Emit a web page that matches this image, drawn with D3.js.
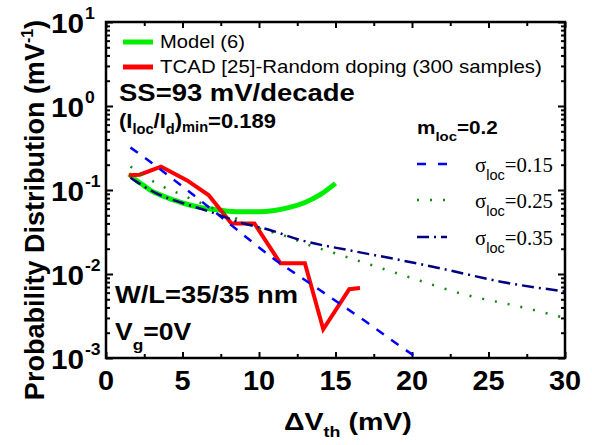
<!DOCTYPE html>
<html>
<head>
<meta charset="utf-8">
<script src="https://cdn.jsdelivr.net/npm/d3@7/dist/d3.min.js"></script>
<style>
  html, body { margin: 0; padding: 0; background: #fff; }
  svg { display: block; }
</style>
</head>
<body>
<svg id="chart" width="592" height="445"></svg>
<script>
// ---------------- data ----------------
const dvModel = [1.5, 2, 2.5, 3, 3.5, 4, 5, 6, 7, 8, 9, 10, 11, 12, 13, 14, 15];
const pModel  = [0.155, 0.13, 0.112, 0.097, 0.088, 0.081, 0.07, 0.063, 0.059, 0.056, 0.055, 0.055, 0.057, 0.062, 0.071, 0.088, 0.12];

const dvTcad = [1.5, 2.2, 3.6, 5.3, 6.7, 8.2, 9.7, 11.4, 13.0, 14.2, 15.9, 16.6];
const pTcad  = [0.15, 0.152, 0.19, 0.13, 0.087, 0.040, 0.040, 0.0134, 0.0134, 0.0022, 0.0066, 0.0068];

const dvS015 = [1.6, 3, 5, 7, 9, 11, 13, 15, 17, 19, 21];
const pS015  = [0.32, 0.21, 0.11, 0.057, 0.029, 0.015, 0.0085, 0.0048, 0.0027, 0.00148, 0.00083];

const dvS025 = [1.6, 3.3, 5, 6.8, 8.5, 10, 11.8, 13, 15, 17, 19.7, 23.6, 27, 30];
const pS025  = [0.19, 0.12, 0.087, 0.063, 0.046, 0.035, 0.028, 0.023, 0.0176, 0.0134, 0.0093, 0.0056, 0.0041, 0.003];

const dvS035 = [1.6, 3.3, 5, 6.8, 8.8, 10.7, 12.7, 16, 19.2, 22.5, 25.8, 30];
const pS035  = [0.14, 0.091, 0.07, 0.055, 0.041, 0.0334, 0.0254, 0.019, 0.0147, 0.011, 0.0081, 0.0062];

const xTicks = [0, 5, 10, 15, 20, 25, 30];
const xTickLabels = ["0", "5", "10", "15", "20", "25", "30"];
const yTicks = [1e-3, 1e-2, 1e-1, 1, 10];
const yTickExps = ["-3", "-2", "-1", "0", "1"];

// ---------------- layout ----------------
const W = 592, H = 445;
const L = 106, R = 565, T = 22, B = 358;
const SANS = "'Liberation Sans', Arial, Helvetica, sans-serif";
const SERIF = "'Liberation Serif', 'Times New Roman', Times, serif";

const svg = d3.select("#chart");
svg.append("rect").attr("width", W).attr("height", H).attr("fill", "#fff");

const x = d3.scaleLinear().domain([0, 30]).range([L, R]);
const y = d3.scaleLog().domain([1e-3, 10]).range([B, T]);

svg.append("clipPath").attr("id", "plotclip")
  .append("rect").attr("x", L).attr("y", T).attr("width", R - L).attr("height", B - T);

// ---------------- axes / ticks ----------------
const minorX = d3.range(2.5, 30, 5);
const minorY = [];
for (let e = -3; e < 1; e++) for (let m = 2; m <= 9; m++) minorY.push(m * Math.pow(10, e));

function styleAxis(g) {
  g.select(".domain").remove();
  g.selectAll("line").attr("stroke", "#000").attr("stroke-width", 2);
  g.selectAll("text").remove();
}
svg.append("g").attr("transform", `translate(0,${B})`)
  .call(d3.axisBottom(x).tickValues(xTicks).tickSize(-6).tickFormat("")).call(styleAxis);
svg.append("g").attr("transform", `translate(0,${B})`)
  .call(d3.axisBottom(x).tickValues(minorX).tickSize(-4).tickFormat("")).call(styleAxis);
svg.append("g").attr("transform", `translate(0,${T})`)
  .call(d3.axisTop(x).tickValues(xTicks).tickSize(-6).tickFormat("")).call(styleAxis);
svg.append("g").attr("transform", `translate(0,${T})`)
  .call(d3.axisTop(x).tickValues(minorX).tickSize(-4).tickFormat("")).call(styleAxis);
svg.append("g").attr("transform", `translate(${L},0)`)
  .call(d3.axisLeft(y).tickValues(yTicks).tickSize(-7).tickFormat("")).call(styleAxis);
svg.append("g").attr("transform", `translate(${L},0)`)
  .call(d3.axisLeft(y).tickValues(minorY).tickSize(-4).tickFormat("")).call(styleAxis);
svg.append("g").attr("transform", `translate(${R},0)`)
  .call(d3.axisRight(y).tickValues(yTicks).tickSize(-7).tickFormat("")).call(styleAxis);
svg.append("g").attr("transform", `translate(${R},0)`)
  .call(d3.axisRight(y).tickValues(minorY).tickSize(-4).tickFormat("")).call(styleAxis);

// ---------------- curves ----------------
const plot = svg.append("g").attr("clip-path", "url(#plotclip)");
function series(dv, p) { return dv.map((d, i) => [d, p[i]]); }
const lineSmooth = d3.line().x(d => x(d[0])).y(d => y(d[1])).curve(d3.curveMonotoneX);
const lineStraight = d3.line().x(d => x(d[0])).y(d => y(d[1]));

plot.append("path").attr("d", lineSmooth(series(dvModel, pModel)))
  .attr("fill", "none").attr("stroke", "#00ee00").attr("stroke-width", 5);
plot.append("path").attr("d", lineStraight(series(dvTcad, pTcad)))
  .attr("fill", "none").attr("stroke", "#ff0000").attr("stroke-width", 4).attr("stroke-linejoin", "miter");
plot.append("path").attr("d", lineSmooth(series(dvS015, pS015)))
  .attr("fill", "none").attr("stroke", "#0000ff").attr("stroke-width", 2.5).attr("stroke-dasharray", "9,9");
plot.append("path").attr("d", lineSmooth(series(dvS025, pS025)))
  .attr("fill", "none").attr("stroke", "#118811").attr("stroke-width", 2.5).attr("stroke-dasharray", "2,11");
plot.append("path").attr("d", lineSmooth(series(dvS035, pS035)))
  .attr("fill", "none").attr("stroke", "#000080").attr("stroke-width", 2.5).attr("stroke-dasharray", "12,5,2,5");

svg.append("rect").attr("x", L).attr("y", T).attr("width", R - L).attr("height", B - T)
  .attr("fill", "none").attr("stroke", "#000").attr("stroke-width", 2.5);

// ---------------- text helpers ----------------
function rich(px, py, parts, base) {
  const t = svg.append("text").attr("x", px).attr("y", py)
    .attr("font-family", base.family || SANS)
    .attr("font-size", base.size)
    .attr("font-weight", base.weight || "normal")
    .attr("fill", "#000");
  let cur = 0;
  parts.forEach(p => {
    const off = p.off || 0;
    const s = t.append("tspan").attr("dy", off - cur).text(p.t);
    if (p.size) s.attr("font-size", p.size);
    if (p.family) s.attr("font-family", p.family);
    if (p.weight) s.attr("font-weight", p.weight);
    cur = off;
  });
  return t;
}
function fitX(t, x0, x1) {
  const bb = t.node().getBBox();
  const s = (x1 - x0) / bb.width;
  t.attr("transform", `translate(${x0},0) scale(${s},1) translate(${-bb.x},0)`);
}
function scaleAbout(t, cx, s) {
  t.attr("transform", `translate(${cx},0) scale(${s},1) translate(${-cx},0)`);
}

// tick labels
xTicks.forEach((v, i) => {
  const t = svg.append("text").attr("x", x(v)).attr("y", 390)
    .attr("text-anchor", "middle").attr("font-family", SANS).attr("font-weight", "bold")
    .attr("font-size", 27).text(xTickLabels[i]);
  scaleAbout(t, x(v), 1.07);
});
yTicks.forEach((v, i) => {
  const g = svg.append("text").attr("x", 84).attr("y", y(v) + 11)
    .attr("text-anchor", "end").attr("font-family", SANS).attr("font-weight", "bold")
    .attr("font-size", 27).text("10");
  scaleAbout(g, 84, 1.1);
  const s = svg.append("text").attr("x", 85).attr("y", y(v) - 3)
    .attr("font-family", SANS).attr("font-weight", "bold")
    .attr("font-size", 16).text(yTickExps[i]);
  scaleAbout(s, 85, 1.1);
});

// axis titles
const xt = rich(284, 430, [
  { t: "\u0394V" }, { t: "th", size: 15, off: 7 }, { t: " (mV)", off: 0 }
], { size: 24, weight: "bold" });
fitX(xt, 284, 412);

const yt = svg.append("text").attr("transform", `translate(44,210) rotate(-90)`)
  .attr("text-anchor", "middle").attr("font-family", SANS).attr("font-weight", "bold")
  .attr("font-size", 27);
yt.append("tspan").text("Probability Distribution (mV");
yt.append("tspan").attr("font-size", 16).attr("dy", -11).text("-1");
yt.append("tspan").attr("dy", 11).text(")");

// legend (top)
svg.append("line").attr("x1", 123).attr("x2", 153).attr("y1", 42).attr("y2", 42)
  .attr("stroke", "#00ee00").attr("stroke-width", 5);
svg.append("line").attr("x1", 123).attr("x2", 153).attr("y1", 67).attr("y2", 67)
  .attr("stroke", "#ff0000").attr("stroke-width", 5);
const l1 = rich(160, 48, [{ t: "Model (6)" }], { size: 19 });
fitX(l1, 160, 245);
const l2 = rich(160, 73, [{ t: "TCAD [25]-Random doping (300 samples)" }], { size: 19 });
fitX(l2, 160, 542);

// annotations
const ss = rich(119, 101, [{ t: "SS=93 mV/decade" }], { size: 23, weight: "bold" });
fitX(ss, 119, 355);
const il = rich(119, 128, [
  { t: "(I" }, { t: "loc", size: 14, off: 6 }, { t: "/I", off: 0 },
  { t: "d", size: 14, off: 6 }, { t: ")", off: 0 }, { t: "min", size: 14, off: 4 },
  { t: "=0.189", off: 0 }
], { size: 21, weight: "bold" });
fitX(il, 119, 276);

const wl = rich(115, 303, [{ t: "W/L=35/35 nm" }], { size: 23, weight: "bold" });
fitX(wl, 115, 298);
const vg = rich(115, 340, [{ t: "V" }, { t: "g", size: 15, off: 10 }, { t: "=0V", off: 0 }],
  { size: 23, weight: "bold" });
fitX(vg, 115, 192);

const ml = rich(417, 134, [{ t: "m" }, { t: "loc", size: 13, off: 7 }, { t: "=0.2", off: 0 }],
  { size: 18, weight: "bold" });
fitX(ml, 417, 498);

// sigma legend
const sigmaItems = [
  { label: "0.15", y: 164, color: "#0000ff", dash: "9,12" },
  { label: "0.25", y: 200, color: "#118811", dash: "2,11" },
  { label: "0.35", y: 237, color: "#000080", dash: "12,5,2,5" }
];
sigmaItems.forEach(it => {
  svg.append("line").attr("x1", 417).attr("x2", 447).attr("y1", it.y).attr("y2", it.y)
    .attr("stroke", it.color).attr("stroke-width", 2.5).attr("stroke-dasharray", it.dash);
  const t = rich(475, it.y + 8, [
    { t: "\u03C3" }, { t: "loc", size: 14, off: 8, family: SANS }, { t: "=" + it.label, off: 0 }
  ], { size: 20, family: SERIF });
  fitX(t, 475, 553);
});
</script>
</body>
</html>
